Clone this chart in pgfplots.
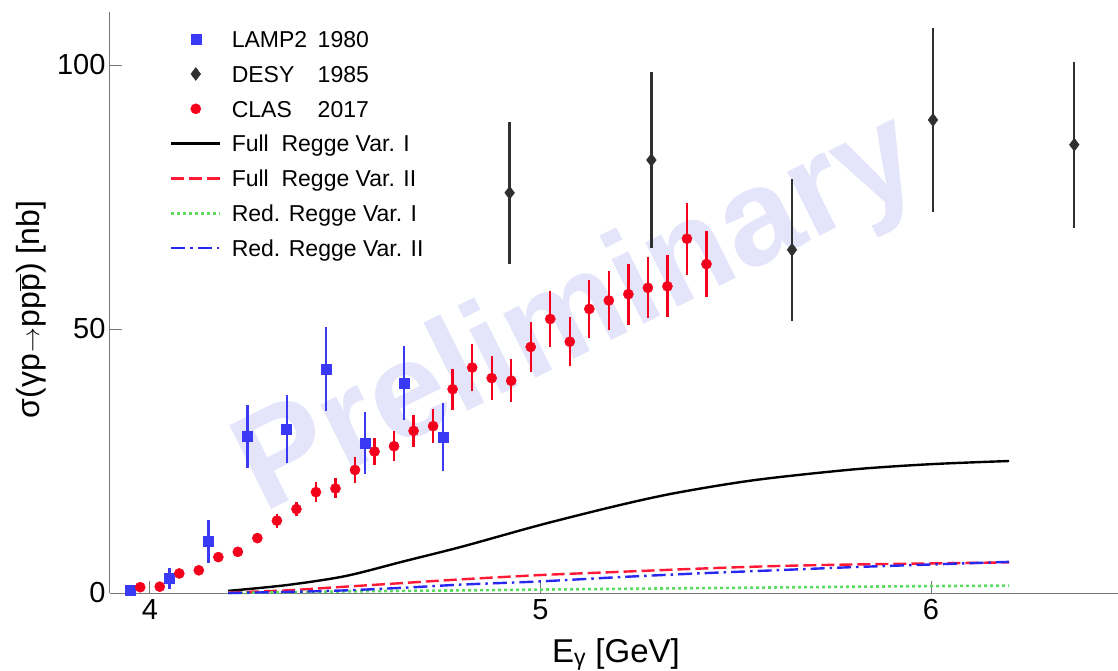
\documentclass[border=0pt]{standalone}
\usepackage{pgfplots}
\pgfplotsset{compat=1.18}
\usepackage{fontspec}
\setmainfont{Liberation Sans}

\definecolor{lampblue}{RGB}{58,58,245}
\definecolor{desygray}{RGB}{48,48,48}
\definecolor{clasred}{RGB}{245,0,28}
\definecolor{regred}{RGB}{255,25,55}
\definecolor{reggreen}{RGB}{90,220,95}
\definecolor{regblue}{RGB}{40,40,240}
\definecolor{wmark}{RGB}{228,228,250}
\definecolor{axgray}{RGB}{120,120,120}

% LAMP2 1980: E_gamma, sigma, error
\pgfplotstableread{
E      s     e
3.950  0.6   0.3
4.050  2.8   2.0
4.150  9.8   4.1
4.250  29.7  6.0
4.350  31.1  6.4
4.450  42.4  8.0
4.550  28.4  5.9
4.650  39.8  7.0
4.750  29.5  6.4
}\lamp

% DESY 1985
\pgfplotstableread{
E      s     e
4.921  75.8  13.4
5.284  82.0  16.6
5.644  65.0  13.4
6.005  89.6  17.4
6.367  84.9  15.7
}\desy

% CLAS 2017
\pgfplotstableread{
E      s     e
3.975  1.1   0.3
4.025  1.2   0.3
4.075  3.7   0.5
4.125  4.3   0.5
4.175  6.8   0.6
4.225  7.8   0.6
4.275  10.4  0.9
4.325  13.7  1.3
4.375  15.9  1.4
4.425  19.1  1.9
4.475  19.8  1.9
4.525  23.3  2.4
4.575  26.8  2.6
4.625  27.8  2.8
4.675  30.7  3.1
4.725  31.6  3.2
4.775  38.6  3.9
4.825  42.7  4.4
4.875  40.7  4.2
4.925  40.2  4.1
4.975  46.6  4.7
5.025  51.9  5.3
5.075  47.6  4.7
5.125  53.8  5.5
5.175  55.4  5.6
5.225  56.6  5.8
5.275  57.8  5.8
5.325  58.1  5.9
5.375  67.1  6.8
5.425  62.3  6.3
}\clas

\pgfplotsset{
  markimage/.style={legend image code/.code={%
    \draw[mark repeat=2,mark phase=2,##1] plot coordinates {(0pt,0pt) (24.5pt,0pt) (49pt,0pt)};}},
  lineimage/.style={legend image code/.code={%
    \draw[##1] (0pt,0pt) -- (49pt,0pt);}},
}

\begin{document}
\begin{tikzpicture}[x=1pt,y=1pt]
\path[use as bounding box] (-110,-77) rectangle (1008,593);
\begin{axis}[
  at={(0,0)}, anchor=south west,
  scale only axis, width=1008pt, height=581pt,
  xmin=3.8976, xmax=6.4789, ymin=0, ymax=110.04,
  axis x line*=bottom, axis y line*=left,
  axis line style={axgray, line width=1pt},
  xtick={4,5,6}, ytick={0,50,100},
  minor tick num=0,
  tick align=inside, major tick length=12pt,
  tick style={axgray, line width=1pt},
  /pgf/number format/assume math mode=true,
  ticklabel style={font=\fontsize{29}{29}\selectfont},
  xticklabel style={yshift=-3pt},
  yticklabel style={xshift=-1pt},
  xlabel={E\textsubscript{γ} [GeV]},
  xlabel style={at={(axis description cs:0.502,-0.1188)}, anchor=base,
    font=\fontsize{33}{33}\selectfont},
  ylabel={σ(γp\kern1pt\ensuremath{\rightarrow}\kern1ptpp\ensuremath{\overline{\mbox{p}}}) [nb]},
  ylabel style={at={(axis description cs:-0.0784,0.488)}, anchor=center,
    font=\fontsize{32}{32}\selectfont},
  legend style={at={(axis description cs:0.0595,0.9725)}, anchor=north west,
    draw=none, fill=none, inner sep=0pt, outer sep=0pt,
    font=\fontsize{23}{23}\selectfont,
    row sep=12.3pt, column sep=10.2pt,
    nodes={inner sep=0pt, text height=19.5pt, text depth=3pt}},
  legend cell align=left,
  error bars/error mark=none,
  clip=false,
]
% watermark
\node[rotate=26.5, text=wmark, font=\fontsize{136}{136}\selectfont\bfseries]
  at (axis cs:5.10,52.3) {Preliminary};

\addplot[only marks, mark=square*, mark size=5pt, color=lampblue, markimage,
  error bars/.cd, y dir=both, y explicit,
  error bar style={line width=2.3pt, lampblue}]
  table[x=E, y=s, y error=e] {\lamp};
\addlegendentry{\makebox[86pt][l]{LAMP2}1980}

\addplot[only marks, mark=diamond*, mark size=6.5pt, color=desygray, markimage,
  error bars/.cd, y dir=both, y explicit,
  error bar style={line width=2.3pt, desygray}]
  table[x=E, y=s, y error=e] {\desy};
\addlegendentry{\makebox[86pt][l]{DESY}1985}

\addplot[only marks, mark=*, mark size=5.1pt, color=clasred, markimage,
  error bars/.cd, y dir=both, y explicit,
  error bar style={line width=2.3pt, clasred}]
  table[x=E, y=s, y error=e] {\clas};
\addlegendentry{\makebox[86pt][l]{CLAS}2017}

% Full Regge, variant I
\addplot[black, line width=2.4pt, smooth, lineimage] coordinates {
  (4.20,0.4) (4.35,1.5) (4.50,3.2) (4.65,6.0) (4.80,8.8) (5.00,12.9)
  (5.20,16.6) (5.35,19.0) (5.55,21.4) (5.80,23.4) (6.00,24.4) (6.20,25.0)};
\addlegendentry{Full\ \ Regge Var. I}

% Full Regge, variant II
\addplot[regred, line width=2.4pt, dash pattern=on 13pt off 5pt, smooth, lineimage] coordinates {
  (4.20,0.1) (4.35,0.5) (4.50,1.2) (4.65,1.9) (4.80,2.6) (5.00,3.4)
  (5.20,4.0) (5.40,4.6) (5.60,5.1) (5.80,5.4) (6.00,5.6) (6.20,5.8)};
\addlegendentry{Full\ \ Regge Var. II}

% Reduced Regge, variant I
\addplot[reggreen, line width=2.6pt, dash pattern=on 3pt off 3pt, smooth, lineimage] coordinates {
  (4.20,0.0) (4.50,0.3) (4.80,0.5) (5.00,0.65) (5.30,0.85) (5.60,1.05)
  (5.90,1.25) (6.20,1.4)};
\addlegendentry{Red. Regge Var. I}

% Reduced Regge, variant II
\addplot[regblue, line width=2.4pt, dash pattern=on 14pt off 5pt on 2.5pt off 5pt, smooth, lineimage] coordinates {
  (4.20,0.0) (4.35,0.2) (4.50,0.5) (4.65,1.0) (4.80,1.6) (5.00,2.2)
  (5.20,3.0) (5.40,3.7) (5.60,4.3) (5.80,4.9) (6.00,5.4) (6.20,5.9)};
\addlegendentry{Red. Regge Var. II}
\end{axis}
\end{tikzpicture}
\end{document}
